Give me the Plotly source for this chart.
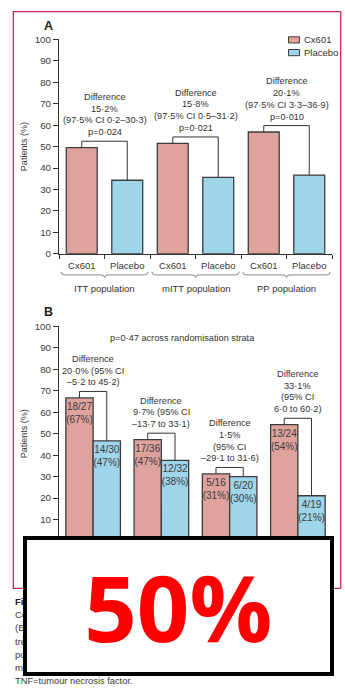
import plotly.graph_objects as go

W, H = 345, 698

# ---- Panel A: combined remission by analysis population (%) ----
populations = ["ITT population", "mITT population", "PP population"]
arm_labels = ["Cx601", "Placebo"]
cx601_a = [49.5, 51.5, 56.8]
placebo_a = [34.3, 35.6, 36.7]
diff_a = ["15·2%", "15·8%", "20·1%"]
ci_a = ["0·2–30·3", "0·5–31·2", "3·3–36·9"]
p_a = ["0·024", "0·021", "0·010"]

# ---- Panel B: remission by randomisation stratum (responders / patients) ----
cx601_n = [18, 17, 5, 13]
cx601_tot = [27, 36, 16, 24]
placebo_n = [14, 12, 6, 4]
placebo_tot = [30, 32, 20, 19]
diff_b = ["20·0%", "9·7%", "1·5%", "33·1%"]
ci_b = ["–5·2 to 45·2", "–13·7 to 33·1", "–29·1 to 31·6", "6·0 to 60·2"]
wrap_b = [False, False, True, True]
p_strata = "p=0·47 across randomisation strata"

# caption fragments beside the overlay box
caption_bits = ["Fi", "Co", "(B", "tre", "po", "m"]
caption_last = "TNF=tumour necrosis factor."
badge_text = "50%"

CX_FILL = "#dfa39e"
PL_FILL = "#9fd5e8"
EDGE = "#3c3c3c"
INK = "#333333"
FRAME = "#c8285a"
FONT = "Liberation Sans, Arial, sans-serif"


def px(x):
    return x / W


def py(y):
    return 1 - y / H


fig = go.Figure()

# ---------- panel A bars ----------
xa_cx = [2 * i for i in range(len(populations))]
xa_pl = [2 * i + 1 for i in range(len(populations))]
bar_line = dict(color=EDGE, width=1.3)
fig.add_trace(go.Bar(x=xa_cx, y=cx601_a, width=0.68, marker=dict(color=CX_FILL, line=bar_line),
                     xaxis="x", yaxis="y", hoverinfo="skip", showlegend=False))
fig.add_trace(go.Bar(x=xa_pl, y=placebo_a, width=0.68, marker=dict(color=PL_FILL, line=bar_line),
                     xaxis="x", yaxis="y", hoverinfo="skip", showlegend=False))

# brackets linking each pair
bx, by = [], []
levels_a = []
for i in range(len(populations)):
    lvl = max(cx601_a[i], placebo_a[i]) + 3
    levels_a.append(lvl)
    bx += [xa_cx[i], xa_cx[i], xa_pl[i], xa_pl[i], None]
    by += [cx601_a[i], lvl, lvl, placebo_a[i], None]
fig.add_trace(go.Scatter(x=bx, y=by, mode="lines", line=dict(color=INK, width=1),
                         xaxis="x", yaxis="y", hoverinfo="skip", showlegend=False))

# ---------- panel B bars ----------
xb = list(range(len(cx601_n)))
cx_pct = [100 * n / t for n, t in zip(cx601_n, cx601_tot)]
pl_pct = [100 * n / t for n, t in zip(placebo_n, placebo_tot)]
cx_txt = [f"{n}/{t}<br>({round(100 * n / t)}%)" for n, t in zip(cx601_n, cx601_tot)]
pl_txt = [f"{n}/{t}<br>({round(100 * n / t)}%)" for n, t in zip(placebo_n, placebo_tot)]
inside_font = dict(family=FONT, size=10, color="#3a3a3a")
fig.add_trace(go.Bar(x=xb, y=cx_pct, width=0.4, offset=-0.4, text=cx_txt,
                     textposition="inside", insidetextanchor="end", constraintext="none",
                     textangle=0, textfont=inside_font,
                     marker=dict(color=CX_FILL, line=bar_line),
                     xaxis="x2", yaxis="y2", hoverinfo="skip", showlegend=False))
fig.add_trace(go.Bar(x=xb, y=pl_pct, width=0.4, offset=0.0, text=pl_txt,
                     textposition="inside", insidetextanchor="end", constraintext="none",
                     textangle=0, textfont=inside_font,
                     marker=dict(color=PL_FILL, line=bar_line),
                     xaxis="x2", yaxis="y2", hoverinfo="skip", showlegend=False))

bx, by = [], []
levels_b = []
for i in xb:
    lvl = max(cx_pct[i], pl_pct[i]) + 3
    levels_b.append(lvl)
    bx += [i - 0.2, i - 0.2, i + 0.2, i + 0.2, None]
    by += [cx_pct[i], lvl, lvl, pl_pct[i], None]
fig.add_trace(go.Scatter(x=bx, y=by, mode="lines", line=dict(color=INK, width=1),
                         xaxis="x2", yaxis="y2", hoverinfo="skip", showlegend=False))

annotations = []
small = dict(family=FONT, size=9.2, color=INK)
LINE = 11.8


def stack(lines, xval, yval, xref, yref):
    n = len(lines)
    for k, ln in enumerate(lines):
        annotations.append(dict(text=ln, x=xval, y=yval, xref=xref, yref=yref,
                                xanchor="center", yanchor="middle", showarrow=False,
                                yshift=9 + (n - 1 - k) * LINE, font=small))


for i in range(len(populations)):
    stack(["Difference", diff_a[i], f"(97·5% CI {ci_a[i]})", f"p={p_a[i]}"],
          (xa_cx[i] + xa_pl[i]) / 2, levels_a[i], "x", "y")

for i in xb:
    if wrap_b[i]:
        lines = ["Difference", diff_b[i], "(95% CI", f"{ci_b[i]})"]
    else:
        lines = ["Difference", f"{diff_b[i]} (95% CI", f"{ci_b[i]})"]
    stack(lines, i, levels_b[i], "x2", "y2")

annotations.append(dict(text=p_strata, x=px(182), y=py(337.3), xref="paper", yref="paper",
                        xanchor="center", yanchor="middle", showarrow=False, font=small))

# group labels under panel A
for i, name in enumerate(populations):
    annotations.append(dict(text=name, x=2 * i + 0.5, y=py(287), xref="x", yref="paper",
                            xanchor="center", yanchor="middle", showarrow=False,
                            font=dict(family=FONT, size=9.5, color=INK)))

# panel letters
for letter, yy in (("A", 20), ("B", 310.7)):
    annotations.append(dict(text=f"<b>{letter}</b>", x=px(48), y=py(yy), xref="paper", yref="paper",
                            xanchor="center", yanchor="middle", showarrow=False,
                            font=dict(family=FONT, size=12.5, color="#222222")))

# legend entries
for name, yy in (("Cx601", 34.5), ("Placebo", 47.5)):
    annotations.append(dict(text=name, x=px(302), y=py(yy), xref="paper", yref="paper",
                            xanchor="left", yanchor="middle", showarrow=False,
                            font=dict(family=FONT, size=9.5, color=INK)))

# caption fragments
for k, bit in enumerate(caption_bits):
    txt = f"<b>{bit}</b>" if k == 0 else bit
    annotations.append(dict(text=txt, x=px(13.3), y=py(605 + 13.4 * k), xref="paper", yref="paper",
                            xanchor="left", yanchor="middle", showarrow=False,
                            font=dict(family=FONT, size=9.5,
                                      color="#1c1c3c" if k == 0 else "#3a3a3a")))
annotations.append(dict(text=caption_last, x=px(13.3), y=py(685.7), xref="paper", yref="paper",
                        xanchor="left", yanchor="middle", showarrow=False,
                        font=dict(family=FONT, size=9.3, color="#3a3a3a")))

# white badge box drawn last so it covers what lies beneath
annotations.append(dict(text=f"<b>{badge_text}</b>", x=px(178), y=py(610), xref="paper", yref="paper",
                        xanchor="center", yanchor="middle", showarrow=False,
                        width=302.6, height=132, borderwidth=4, borderpad=0,
                        bgcolor="white", bordercolor="black", align="center", valign="middle",
                        font=dict(family="Open Sans, Liberation Sans, sans-serif", size=92, color="#ff0000")))

shapes = []
# outer frame
shapes.append(dict(type="rect", xref="paper", yref="paper", x0=px(13.3), x1=px(340.7),
                   y0=py(591.7), y1=py(5.7), line=dict(color=FRAME, width=1.3), layer="below"))
# legend swatches
for fill, y0, y1 in ((CX_FILL, 31.3, 37.6), (PL_FILL, 44.2, 50.5)):
    shapes.append(dict(type="rect", xref="paper", yref="paper", x0=px(288.5), x1=px(299.5),
                       y0=py(y1), y1=py(y0), fillcolor=fill, line=dict(color=EDGE, width=1)))
# curly braces under each population
yt, ym, yk = py(270), py(273.2), py(276)
d = 0.08
for i in range(len(populations)):
    x0, x1 = 2 * i - 0.46, 2 * i + 1.46
    xm = (x0 + x1) / 2
    path = (f"M{x0},{yt} Q{x0},{ym} {x0 + d},{ym} L{xm - d},{ym} Q{xm},{ym} {xm},{yk} "
            f"Q{xm},{ym} {xm + d},{ym} L{x1 - d},{ym} Q{x1},{ym} {x1},{yt}")
    shapes.append(dict(type="path", xref="x", yref="paper", path=path,
                       line=dict(color="#8a8a8a", width=1)))

yaxis_common = dict(range=[0, 100], tickvals=list(range(0, 101, 10)), ticks="outside", ticklen=5,
                    tickcolor=INK, showline=True, linecolor=INK, linewidth=1, showgrid=False,
                    zeroline=False, tickfont=dict(family=FONT, size=9.8, color="#3a3a3a"),
                    title=dict(text="Patients (%)", font=dict(family=FONT, size=9, color=INK), standoff=5))

fig.update_layout(
    width=W, height=H, margin=dict(l=0, r=0, t=0, b=0),
    paper_bgcolor="white", plot_bgcolor="white",
    barmode="overlay", showlegend=False,
    font=dict(family=FONT, color=INK),
    xaxis=dict(domain=[px(59), px(332)], range=[-0.5, 5.5], anchor="y",
               tickvals=xa_cx + xa_pl, ticktext=[arm_labels[0]] * 3 + [arm_labels[1]] * 3,
               ticks="", ticklabelstandoff=3, showline=True, linecolor=INK, linewidth=1,
               showgrid=False, zeroline=False, tickfont=dict(family=FONT, size=9.5, color=INK),
               minor=dict(tickvals=[k - 0.5 for k in range(7)], ticks="outside", ticklen=4,
                          tickcolor=INK, showgrid=False)),
    yaxis=dict(domain=[py(251.7), py(34)], anchor="x", **yaxis_common),
    xaxis2=dict(domain=[px(59), px(332)], range=[-0.5, 3.5], anchor="y2",
                showticklabels=False, ticks="", showline=True, linecolor=INK, showgrid=False,
                zeroline=False),
    yaxis2=dict(domain=[py(543.5), py(325.5)], anchor="x2", **yaxis_common),
    annotations=annotations,
    shapes=shapes,
)

fig.write_html("out.html", config={"displayModeBar": False})
